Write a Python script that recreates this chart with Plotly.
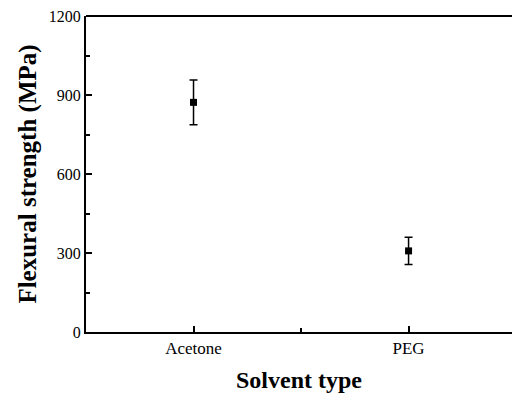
import plotly.graph_objects as go

categories = ["Acetone", "PEG"]
x_pos = [1, 2]
strength = [872, 308]
err = [85, 52]
y_ticks = [0, 300, 600, 900, 1200]

fig = go.Figure()
fig.add_trace(go.Scatter(
    x=x_pos, y=strength, mode="markers",
    marker=dict(symbol="square", size=7, color="black"),
    error_y=dict(type="data", array=err, visible=True, color="black", thickness=1.5, width=4),
    showlegend=False,
))

font = "Liberation Serif, Times New Roman, serif"
fig.update_layout(
    width=512, height=395,
    margin=dict(l=86, r=0, t=16, b=63, autoexpand=False),
    paper_bgcolor="white", plot_bgcolor="white",
    font=dict(family=font, color="black", size=17),
    xaxis=dict(
        range=[0.5, 2.481], tickvals=x_pos, ticktext=categories,
        showgrid=False, zeroline=False, showline=True, linecolor="black", linewidth=2,
        ticks="inside", ticklen=6, tickwidth=1.5, tickcolor="black",
        minor=dict(tickvals=[1.5], ticks="inside", ticklen=4, tickwidth=1.5, tickcolor="black"),
        tickfont=dict(size=17, family=font),
        title=dict(text="<b>Solvent type</b>", font=dict(size=24, family=font), standoff=14),
        automargin=False, ticklabeloverflow="allow",
    ),
    yaxis=dict(
        range=[0, 1200], tickvals=y_ticks,
        showgrid=False, zeroline=False, showline=True, linecolor="black", linewidth=2,
        ticks="inside", ticklen=6, tickwidth=1.5, tickcolor="black",
        minor=dict(dtick=150, tick0=0, ticks="inside", ticklen=4, tickwidth=1.5, tickcolor="black"),
        tickfont=dict(size=16, family=font),
        title=dict(text="<b>Flexural strength (MPa)</b>", font=dict(size=25, family=font), standoff=5),
        automargin=False, ticklabeloverflow="allow",
    ),
    shapes=[dict(type="line", xref="paper", yref="paper", x0=0, x1=1, y0=1, y1=1,
                 line=dict(color="black", width=2))],
)
fig.write_html(
    "out.html",
    config={"displayModeBar": False, "responsive": False},
    post_script="document.body.style.margin='0';document.body.style.overflow='hidden';"
                "document.documentElement.style.overflow='hidden';",
)
